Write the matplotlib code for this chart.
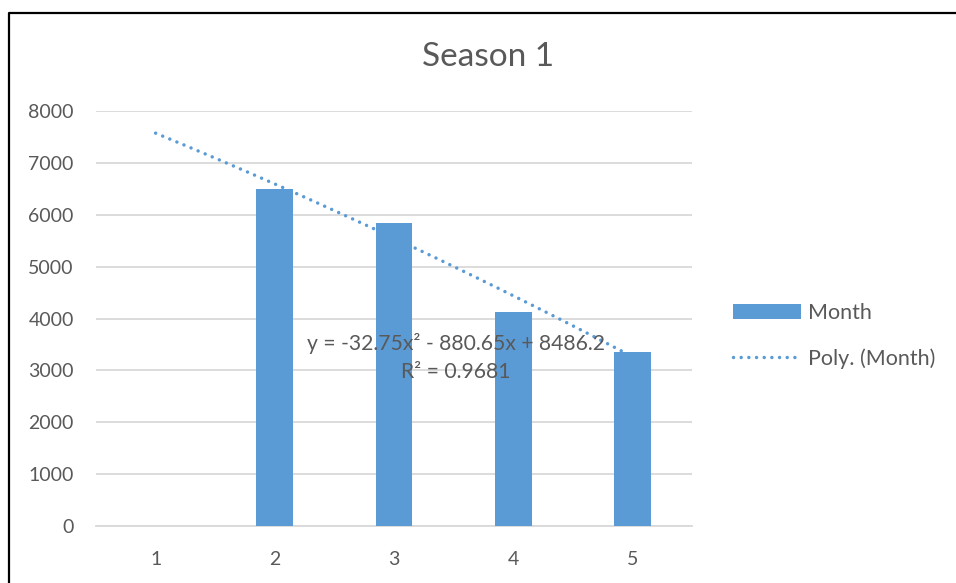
import matplotlib
matplotlib.use("Agg")
import matplotlib.pyplot as plt
from matplotlib.lines import Line2D
import numpy as np

# data
months = [1, 2, 3, 4, 5]
values = [0, 6490, 5845, 4125, 3355]
poly_coef = [-32.75, -880.65, 8486.2]   # y = a x^2 + b x + c
r_squared = 0.9681
y_ticks = [0, 1000, 2000, 3000, 4000, 5000, 6000, 7000, 8000]

blue = "#5b9bd5"
grey_text = "#595959"
grid_col = "#d9d9d9"

plt.rcParams["font.family"] = ["Lato", "DejaVu Sans"]

fig = plt.figure(figsize=(9.56, 5.83), dpi=100)
ax = fig.add_axes([96 / 956, 57 / 583, 596 / 956, 415 / 583])

bars = ax.bar(months, values, width=0.31, color=blue, zorder=3, label="Month")

# polynomial trendline from the fitted equation
xs = np.linspace(months[0], months[-1], 200)
ys = np.polyval(poly_coef, xs)
trend, = ax.plot(xs, ys, color=blue, lw=2.5, linestyle=(0, (0.01, 2.2)),
                 dash_capstyle="round", zorder=4, label="Poly. (Month)")

ax.set_xlim(0.5, 5.5)
ax.set_ylim(0, 8000)
ax.set_yticks(y_ticks)
ax.set_xticks(months)
ax.yaxis.grid(True, color=grid_col, lw=1.3, zorder=0)
ax.set_axisbelow(True)
for s in ["top", "right", "left"]:
    ax.spines[s].set_visible(False)
ax.spines["bottom"].set_color(grid_col)
ax.spines["bottom"].set_linewidth(1.3)
ax.tick_params(axis="both", length=0, labelsize=14, labelcolor=grey_text)
ax.tick_params(axis="y", pad=16)
ax.tick_params(axis="x", pad=18)

a, b, c = poly_coef
eq = f"y = {a}x² - {abs(b)}x + {c}\nR² = {r_squared}"
ax.text(3.52, 3720, eq, ha="center", va="top", fontsize=15.2,
        color=grey_text, linespacing=1.5, zorder=5)

fig.text(488 / 956, 1 - 57 / 583, "Season 1", ha="center", va="center",
         fontsize=24, color=grey_text)

leg = fig.legend([bars, trend], ["Month", "Poly. (Month)"],
                 loc="center left", bbox_to_anchor=(714 / 956, 1 - 336 / 583),
                 frameon=False, fontsize=15.5, handlelength=3.15,
                 handletextpad=0.33, labelspacing=1.15)
for t in leg.get_texts():
    t.set_color(grey_text)

# chart frame (left and top edges)
fig.add_artist(Line2D([8.5 / 956, 8.5 / 956, 1], [0, 1 - 12.8 / 583, 1 - 12.8 / 583],
                      transform=fig.transFigure, color="black", lw=1.6))

fig.savefig("out.png", dpi=100)
